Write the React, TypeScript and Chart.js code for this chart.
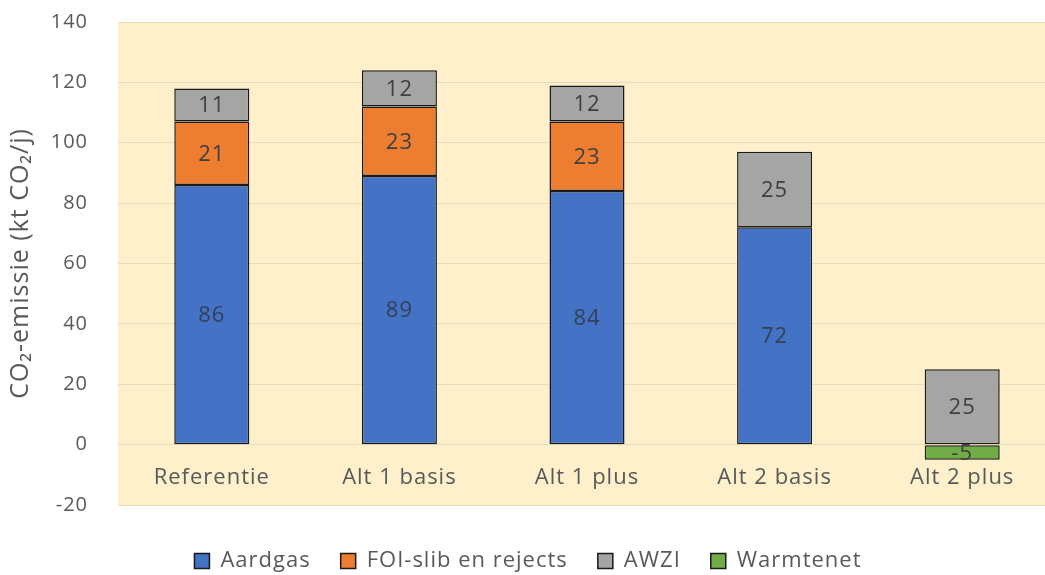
import React, { useEffect, useRef } from 'react';
import { Chart, registerables } from 'chart.js';

Chart.register(...registerables);

const categories = ['Referentie', 'Alt 1 basis', 'Alt 1 plus', 'Alt 2 basis', 'Alt 2 plus'];
const aardgas = [86, 89, 84, 72, null];
const foiSlib = [21, 23, 23, null, null];
const awzi = [11, 12, 12, 25, 25];
const warmtenet = [null, null, null, null, -5];
const yTicks = { min: -20, max: 140, step: 20 };
const yTitle = 'CO\u2082-emissie (kt CO\u2082/j)';

const FONT = '"Open Sans", "Liberation Sans", sans-serif';
const TEXT = '#595959';

const spacing = {
  id: 'spacing',
  beforeInit(chart: any) { chart.ctx.letterSpacing = '1px'; },
  beforeUpdate(chart: any) { chart.ctx.letterSpacing = '1px'; },
  beforeDraw(chart: any) { chart.ctx.letterSpacing = '1px'; },
};

const plotBg = {
  id: 'plotBg',
  beforeDraw(chart: any) {
    const { ctx, chartArea } = chart;
    ctx.save();
    ctx.fillStyle = '#FDF0CB';
    ctx.fillRect(chartArea.left, chartArea.top, chartArea.right - chartArea.left, chartArea.bottom - chartArea.top);
    ctx.restore();
  },
};

const valueLabels = {
  id: 'valueLabels',
  afterDatasetsDraw(chart: any) {
    const { ctx } = chart;
    ctx.save();
    ctx.font = `22px ${FONT}`;
    ctx.textAlign = 'center';
    ctx.textBaseline = 'middle';
    chart.data.datasets.forEach((ds: any, di: number) => {
      const meta = chart.getDatasetMeta(di);
      meta.data.forEach((el: any, i: number) => {
        const v = ds.data[i];
        if (v === null || v === undefined) return;
        ctx.fillStyle = ds.labelColor;
        ctx.fillText(String(v), el.x, (el.y + el.base) / 2 + 1);
      });
    });
    ctx.restore();
  },
};

const categoryLabels = {
  id: 'categoryLabels',
  afterDatasetsDraw(chart: any) {
    const { ctx } = chart;
    const xs = chart.scales.x;
    const ys = chart.scales.y;
    ctx.save();
    ctx.font = `22px ${FONT}`;
    ctx.fillStyle = TEXT;
    ctx.textAlign = 'center';
    ctx.textBaseline = 'middle';
    const y = (ys.getPixelForValue(0) + ys.getPixelForValue(yTicks.min)) / 2 + 3;
    categories.forEach((c, i) => {
      ctx.fillText(c, xs.getPixelForValue(i), y);
    });
    ctx.restore();
  },
};

export default function App() {
  const ref = useRef<HTMLCanvasElement>(null);
  useEffect(() => {
    const common = { borderColor: '#1a1a1a', borderWidth: 1.5, borderSkipped: false as const };
    const chart = new Chart(ref.current!, {
      type: 'bar',
      data: {
        labels: categories,
        datasets: [
          { label: 'Aardgas', data: aardgas as any, backgroundColor: '#4472C4', labelColor: '#34405A', ...common } as any,
          { label: 'FOI-slib en rejects', data: foiSlib as any, backgroundColor: '#ED7D31', labelColor: '#404040', ...common } as any,
          { label: 'AWZI', data: awzi as any, backgroundColor: '#A5A5A5', labelColor: '#404040', ...common } as any,
          { label: 'Warmtenet', data: warmtenet as any, backgroundColor: '#70AD47', labelColor: '#404040', ...common } as any,
        ],
      },
      options: {
        animation: false,
        responsive: false,
        devicePixelRatio: 1,
        layout: { padding: { top: 22, left: 0, right: 0, bottom: 0 } },
        datasets: { bar: { categoryPercentage: 1, barPercentage: 0.4 } },
        plugins: {
          legend: {
            position: 'bottom',
            labels: {
              font: { family: FONT, size: 22 },
              color: TEXT,
              boxWidth: 15,
              boxHeight: 15,
              padding: 30,
            },
          },
          tooltip: { enabled: false },
        },
        scales: {
          x: {
            stacked: true,
            ticks: { display: false },
            grid: { display: false, drawTicks: false },
            border: { display: false },
            afterFit: (s: any) => { s.height = 15; },
          },
          y: {
            stacked: true,
            min: yTicks.min,
            max: yTicks.max,
            ticks: {
              stepSize: yTicks.step,
              padding: 30,
              color: TEXT,
              font: { family: FONT, size: 20 },
            },
            grid: { color: '#E8DCBA', lineWidth: 1, drawTicks: false },
            border: { display: false },
            title: {
              display: true,
              text: yTitle,
              color: TEXT,
              font: { family: FONT, size: 25 },
              padding: { top: 6, bottom: 4 },
            },
            afterFit: (s: any) => {
              s.width = 118;
              s.paddingTop = 12;
              s.paddingBottom = 12;
            },
          },
        },
      },
      plugins: [spacing, plotBg, valueLabels, categoryLabels],
    });
    return () => chart.destroy();
  }, []);
  return (
    <div style={{ position: 'fixed', left: 0, top: 0, width: 1045, height: 575, overflow: 'hidden', background: '#fff' }}>
      <canvas ref={ref} width={1056} height={582} style={{ width: 1056, height: 582, display: 'block' }} />
    </div>
  );
}
